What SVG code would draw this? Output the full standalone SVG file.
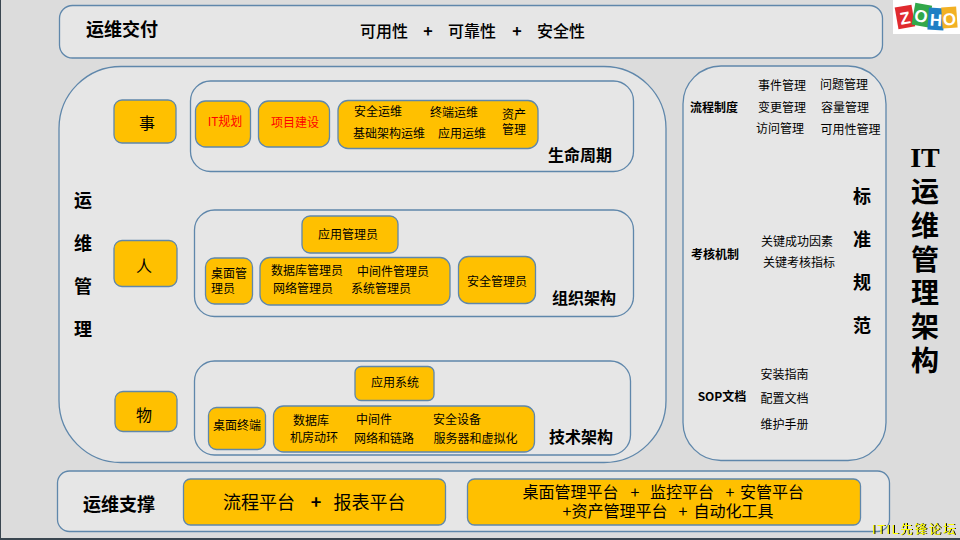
<svg xmlns="http://www.w3.org/2000/svg" width="960" height="540" viewBox="0 0 960 540">
<style>
text{font-family:"Noto Sans CJK SC","Liberation Sans",sans-serif;fill:#000;text-anchor:middle}
.p{fill:#e6e6e6;stroke:#5f87ab;stroke-width:1.3}
.o{fill:#ffc000;stroke:#5f87ab;stroke-width:1.3}
.s,.m{font-size:12px}
.t{font-size:12px;font-weight:700}
.b{font-size:16px;font-weight:700}
.l{font-size:18px;font-weight:700}
.q{font-size:16px;font-weight:500}
.r{font-size:18px}
.f{font-size:16px}
.h{font-size:16px}
.v{font-size:18px;font-weight:700}
.x{font-size:28px;font-weight:700}
.z{font-family:"Liberation Sans",sans-serif;font-size:17px;font-weight:700;fill:#fff}
</style>
<rect width="960" height="540" fill="#dcdcdc"/>
<rect x="0" y="538" width="960" height="2" fill="#3a4650"/>
<rect x="0" y="0" width="1" height="540" fill="#3a4650"/>
<g id="delivery"><rect class="p" x="59.500" y="5.500" width="823" height="52.500" rx="13"/>
<text class="l" x="122" y="36">运维交付</text>
<text class="q" x="384" y="37">可用性</text><text class="q" x="428" y="37" style="font-weight:700">+</text><text class="q" x="472" y="37">可靠性</text><text class="q" x="517" y="37" style="font-weight:700">+</text><text class="q" x="561" y="37">安全性</text></g>
<g id="logo"><rect x="893" y="0" width="67" height="34" fill="#fff"/>
<g transform="rotate(-10 905 20)"><rect x="897" y="6" width="17" height="22" fill="#e02a2e"/><text class="z" x="905.500" y="24">Z</text></g>
<g transform="rotate(10 921 17)"><rect x="913" y="4" width="17" height="22" fill="#32a84a"/><text class="z" x="921" y="22">O</text></g>
<g transform="rotate(4 936 21)"><rect x="928" y="8" width="16" height="22" fill="#1e7fc4"/><text class="z" x="936" y="26">H</text></g>
<g transform="rotate(-4 950 19)"><rect x="942" y="7" width="15" height="21" fill="#f2b124"/><text class="z" x="949.500" y="25">O</text></g></g>
<g id="ops"><rect class="p" x="59" y="66.500" width="607" height="396" rx="62"/>
<text class="v" x="83" y="207">运</text><text class="v" x="83" y="250">维</text><text class="v" x="83" y="293">管</text><text class="v" x="83" y="336">理</text></g>
<g id="shi"><rect class="o" x="114" y="100" width="62" height="43" rx="8"/><text class="h" x="147" y="129">事</text></g>
<g id="ren"><rect class="o" x="114" y="240.500" width="63" height="46" rx="8"/><text class="h" x="144" y="272">人</text></g>
<g id="wu"><rect class="o" x="115" y="391.500" width="62" height="40" rx="8"/><text class="h" x="144" y="421">物</text></g>
<g id="lifecycle"><rect class="p" x="190.500" y="81" width="443" height="90.500" rx="20"/>
<text class="b" x="580" y="161">生命周期</text></g>
<g id="itplan"><rect class="o" x="195.500" y="101" width="55" height="46" rx="10"/><text class="s" x="225" y="126" style="fill:#f00">IT规划</text></g>
<g id="project"><rect class="o" x="258.500" y="101" width="71" height="46" rx="10"/><text class="m" x="295" y="127" style="fill:#f00">项目建设</text></g>
<g id="ops-box"><rect class="o" x="338" y="100.500" width="200" height="48" rx="10"/>
<text class="m" x="378" y="116">安全运维</text><text class="m" x="454" y="117">终端运维</text><text class="m" x="514" y="119">资产</text><text class="m" x="514" y="134">管理</text><text class="m" x="389" y="138">基础架构运维</text><text class="m" x="462" y="138">应用运维</text></g>
<g id="org"><rect class="p" x="194.500" y="210" width="439" height="106.500" rx="20"/><text class="b" x="584" y="304">组织架构</text></g>
<g id="appadmin"><rect class="o" x="302" y="216" width="96" height="37" rx="8"/><text class="m" x="348" y="239">应用管理员</text></g>
<g id="deskadmin"><rect class="o" x="205.500" y="258" width="47" height="46" rx="9"/><text class="m" x="229" y="278">桌面管</text><text class="m" x="223" y="293">理员</text></g>
<g id="admins"><rect class="o" x="260" y="257.500" width="190" height="47.500" rx="10"/>
<text class="m" x="307" y="275">数据库管理员</text><text class="m" x="393" y="276">中间件管理员</text><text class="m" x="303" y="293">网络管理员</text><text class="m" x="381" y="293">系统管理员</text></g>
<g id="secadmin"><rect class="o" x="458.500" y="256.500" width="77" height="47" rx="10"/><text class="m" x="497" y="286">安全管理员</text></g>
<g id="tech"><rect class="p" x="194.500" y="361" width="436" height="94" rx="20"/><text class="b" x="581" y="443">技术架构</text></g>
<g id="appsys"><rect class="o" x="355" y="366.500" width="79" height="34" rx="6"/><text class="s" x="395" y="387">应用系统</text></g>
<g id="deskterm"><rect class="o" x="208.500" y="407.500" width="57" height="42" rx="8"/><text class="s" x="237" y="430">桌面终端</text></g>
<g id="infra"><rect class="o" x="273.500" y="406" width="261" height="46" rx="10"/>
<text class="s" x="311" y="425">数据库</text><text class="s" x="374" y="424">中间件</text><text class="s" x="457" y="424">安全设备</text><text class="s" x="314" y="442">机房动环</text><text class="s" x="384" y="443">网络和链路</text><text class="s" x="475.500" y="443">服务器和虚拟化</text></g>
<g id="standards"><rect class="p" x="683" y="66" width="203" height="394.500" rx="38"/>
<text class="t" x="714" y="112">流程制度</text>
<text class="s" x="782" y="90">事件管理</text><text class="s" x="844" y="89">问题管理</text>
<text class="s" x="782" y="112">变更管理</text><text class="s" x="845" y="112">容量管理</text>
<text class="s" x="780" y="133">访问管理</text><text class="s" x="850.500" y="134">可用性管理</text>
<text class="t" x="715" y="259">考核机制</text>
<text class="s" x="797" y="246">关键成功因素</text><text class="s" x="799" y="267">关键考核指标</text>
<text class="t" x="722" y="401">SOP文档</text>
<text class="s" x="784.500" y="379">安装指南</text><text class="s" x="784.500" y="403">配置文档</text><text class="s" x="784.500" y="429">维护手册</text>
<text class="v" x="862" y="203">标</text><text class="v" x="862" y="246">准</text><text class="v" x="862" y="289">规</text><text class="v" x="862" y="332">范</text></g>
<g id="title"><text class="x" x="925" y="167" style="font-family:'Liberation Serif',serif">IT</text><text class="x" x="925" y="202">运</text><text class="x" x="925" y="236">维</text><text class="x" x="925" y="270">管</text><text class="x" x="925" y="303">理</text><text class="x" x="925" y="337">架</text><text class="x" x="925" y="371">构</text></g>
<g id="support"><rect class="p" x="57.500" y="471" width="832" height="60.500" rx="12"/><text class="l" x="119" y="511">运维支撑</text></g>
<g id="plat1"><rect class="o" x="183.500" y="479" width="262" height="46" rx="7"/><text class="r" x="259" y="509">流程平台</text><text class="r" x="316" y="509" style="font-weight:700">+</text><text class="r" x="369.500" y="509">报表平台</text></g>
<g id="plat2"><rect class="o" x="467.500" y="479" width="393" height="46" rx="7"/>
<text class="f" x="570.500" y="498">桌面管理平台</text><text class="f" x="635" y="498">+</text><text class="f" x="682" y="498">监控平台</text><text class="f" x="730" y="498">+</text><text class="f" x="772" y="498">安管平台</text>
<text class="f" x="615" y="517">+资产管理平台</text><text class="f" x="683" y="517">+</text><text class="f" x="733.500" y="517">自动化工具</text></g>
<text x="872" y="534" style="font-size:12.500px;letter-spacing:1.700px;fill:#ffff00;text-anchor:start;font-family:'Liberation Sans','Noto Sans CJK SC',sans-serif;filter:drop-shadow(1px 0 0 #000)">ITIL先锋论坛</text>
</svg>
